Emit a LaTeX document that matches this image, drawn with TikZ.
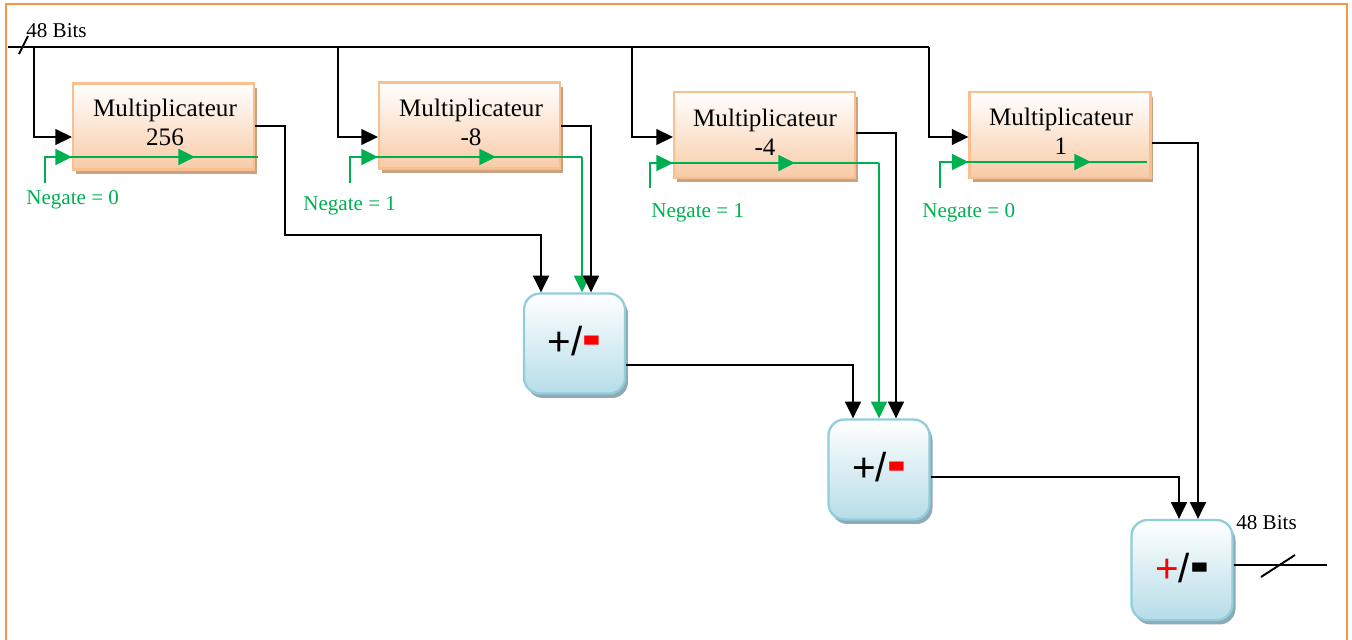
\documentclass[tikz,border=0pt]{standalone}
\usepackage{fontspec}
\setmainfont{Liberation Serif}
\setsansfont{Liberation Sans}
\usepackage{graphicx}
\usetikzlibrary{arrows.meta,shadows,calc}
\definecolor{frameor}{HTML}{F79646}
\definecolor{gr}{HTML}{00B050}
\definecolor{mulborder}{HTML}{F9BF8F}
\definecolor{mulbot}{HTML}{F8CBA6}
\definecolor{mulshadow}{HTML}{C9A27F}
\definecolor{addborder}{HTML}{92CDDC}
\definecolor{addbot}{HTML}{B6DDE8}
\definecolor{addshadow}{HTML}{8FAAB5}
\newcommand{\redbar}{\textcolor{red}{\bfseries\raisebox{-3pt}{\scalebox{1.4}[1.9]{-}}}}
\newcommand{\blackbar}{{\bfseries\raisebox{-3pt}{\scalebox{1.4}[1.9]{-}}}}
\begin{document}
\begin{tikzpicture}[x=0.02cm,y=-0.02cm,
  mulbox/.style={draw=mulborder, line width=1.2pt, top color=white, bottom color=mulbot,
    minimum width=3.62cm, minimum height=1.72cm, inner sep=0pt,
    general shadow={fill=mulshadow, shadow xshift=0.06cm, shadow yshift=-0.09cm}},
  multxt/.style={align=center, font=\fontsize{14.3}{16.5}\selectfont, inner sep=0pt},
  addbox/.style={draw=addborder, line width=1.3pt, top color=white, bottom color=addbot,
    rounded corners=0.32cm, minimum width=2.02cm, minimum height=2.0cm, inner sep=0pt,
    general shadow={fill=addshadow, shadow xshift=0.06cm, shadow yshift=-0.09cm},
    font=\sffamily\fontsize{23}{25}\selectfont},
  wire/.style={line width=1.1pt, black},
  arr/.style={line width=1.1pt, black, -{Triangle[length=9.5pt,width=9pt]}},
  gwire/.style={line width=1.2pt, gr},
  garr/.style={line width=1.4pt, gr, -{Triangle[length=9.5pt,width=9pt]}},
  lbl/.style={font=\fontsize{12}{14}\selectfont, inner sep=0pt, anchor=west},
  glbl/.style={lbl, text=gr}]
\useasboundingbox (0,0) rectangle (1352,639);
% frame
\draw[frameor, line width=1.5pt] (6,645) -- (6,4) -- (1347,4) -- (1347,645);

% multiplier boxes
\node[mulbox] (m1) at (163.5,126.5) {};
\node[multxt] (m1t) at (165,122) {Multiplicateur\\256};
\node[mulbox] (m2) at (469.5,125.5) {};
\node[multxt] (m2t) at (471,122) {Multiplicateur\\-8};
\node[mulbox] (m3) at (764.5,135) {};
\node[multxt] (m3t) at (765,132) {Multiplicateur\\-4};
\node[mulbox] (m4) at (1060,135) {};
\node[multxt] (m4t) at (1061,131) {Multiplicateur\\1};

% adders
\node[addbox] (a1) at (574.5,343.5) {+/\redbar};
\node[addbox] (a2) at (879,469.5) {+/\redbar};
\node[addbox] (a3) at (1182,570) {\textcolor{red}{+}/\blackbar};

% bus
\coordinate (busL) at (8,47);
\coordinate (busR) at (929,47);
\coordinate (d1) at (34,47);
\coordinate (d2) at (338,47);
\coordinate (d3) at (632,47);
\draw[wire] (busL) -- (busR);
\draw[wire] (19,54) -- (28,36);
\node[lbl] (bitsin) at (26,31) {48 Bits};
\draw[arr] (d1) |- (m1.west |- 0,137);
\draw[arr] (d2) |- (m2.west |- 0,137);
\draw[arr] (d3) |- (m3.west |- 0,137);
\draw[arr] (busR) |- (m4.west |- 0,137);

% green negate lines
\coordinate (g1) at (45,183);
\coordinate (g2) at (350,183);
\coordinate (g3) at (650,188);
\coordinate (g4) at (940,188);
\draw[gwire] (g1) |- (258,157);
\draw[garr] (g1 |- 0,157) -- (m1.west |- 0,157);
\draw[garr] (146,157) -- (195,157);
\node[glbl] (n1) at (26,200) {Negate = 0};

\draw[gwire] (g2) |- (582,157);
\draw[garr] (g2 |- 0,157) -- (m2.west |- 0,157);
\draw[garr] (447,157) -- (496,157);
\draw[garr] (582,157) -- (582,0 |- a1.north);
\node[glbl] (n2) at (303,206) {Negate = 1};

\draw[gwire] (g3) |- (879,163);
\draw[garr] (g3 |- 0,163) -- (m3.west |- 0,163);
\draw[garr] (746,163) -- (795,163);
\draw[garr] (879,163) -- (879,0 |- a2.north);
\node[glbl] (n3) at (651,213) {Negate = 1};

\draw[gwire] (g4) |- (1147,162);
\draw[garr] (g4 |- 0,162) -- (m4.west |- 0,162);
\draw[garr] (1042,162) -- (1091,162);
\node[glbl] (n4) at (922,213) {Negate = 0};

% outputs of multipliers
\draw[arr] (m1.east |- 0,126) -- (285,126) -- (285,235) -- (541,235) -- (541,0 |- a1.north);
\draw[arr] (m2.east |- 0,126) -- (591,126) -- (591,0 |- a1.north);
\draw[arr] (m3.east |- 0,133) -- (896,133) -- (896,0 |- a2.north);
\draw[arr] (m4.east |- 0,143) -- (1198,143) -- (1198,0 |- a3.north);

% adder chain
\draw[arr] (a1.east |- 0,365) -- (853,365) -- (853,0 |- a2.north);
\draw[arr] (a2.east |- 0,477) -- (1179,477) -- (1179,0 |- a3.north);

% output
\coordinate (out) at (1327,565);
\draw[wire] (a3.east |- out) -- (out);
\draw[wire] (1261,577) -- (1295,555);
\node[lbl] (bitsout) at (1236,523) {48 Bits};
\end{tikzpicture}
\end{document}
